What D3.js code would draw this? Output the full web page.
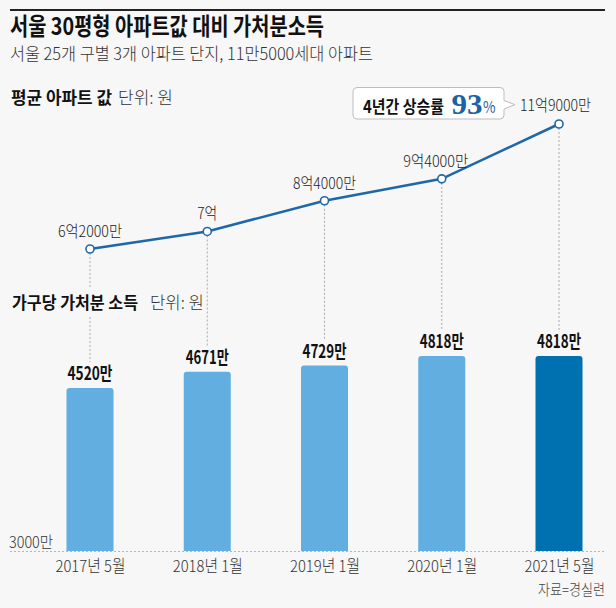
<!DOCTYPE html>
<html><head><meta charset="utf-8">
<script src="https://cdn.jsdelivr.net/npm/d3@7"></script>
<style>
html,body{margin:0;padding:0;background:#f7f7f7;}
svg{display:block;}
text{font-family:"Noto Sans CJK KR","Noto Sans",sans-serif;}
</style></head>
<body>
<svg id="chart" width="616" height="608"></svg>
<script>
// ---- data ----
const categories = ["2017년 5월","2018년 1월","2019년 1월","2020년 1월","2021년 5월"];
const aptPrice = [62000, 70000, 84000, 94000, 119000];          // 만원
const aptLabels = ["6억2000만","7억","8억4000만","9억4000만","11억9000만"];
const income = [4520, 4671, 4729, 4818, 4818];                   // 만원
const incomeLabels = ["4520만","4671만","4729만","4818만","4818만"];
const incomeBase = 3000;
const baseLabel = "3000만";
const riseRate = "93";

const W = 616, H = 608;
const bg = "#f7f7f7";
const svg = d3.select("#chart");
svg.append("rect").attr("width",W).attr("height",H).attr("fill",bg);

function fit(sel, w){ return sel.attr("textLength", w).attr("lengthAdjust","spacingAndGlyphs"); }

// scales
const x = d3.scalePoint().domain(categories).range([90, 559]);
const yLine = d3.scaleLinear().domain([0, 119000]).range([385, 124]);
const yBar = d3.scaleLinear().domain([incomeBase, 5000]).range([551, 336.5]);
const barW = 47, r = 3;

// top rule
svg.append("line").attr("x1",10).attr("x2",605).attr("y1",10).attr("y2",10)
  .attr("stroke","#222").attr("stroke-width",2);

// titles
fit(svg.append("text").attr("x",10).attr("y",35).attr("font-size",24).attr("font-weight",700)
  .attr("fill","#111").text("서울 30평형 아파트값 대비 가처분소득"), 314);
fit(svg.append("text").attr("x",10).attr("y",60).attr("font-size",17).attr("font-weight",300)
  .attr("fill","#333").text("서울 25개 구별 3개 아파트 단지, 11만5000세대 아파트"), 363);

// section label 1
fit(svg.append("text").attr("x",11).attr("y",104).attr("font-size",17).attr("font-weight",700)
  .attr("fill","#111").text("평균 아파트 값"), 101);
fit(svg.append("text").attr("x",118).attr("y",104).attr("font-size",17).attr("font-weight",300)
  .attr("fill","#333").text("단위: 원"), 55);

// dashed verticals from points down to bar labels
svg.append("g").selectAll("line").data(categories).join("line")
  .attr("x1",d=>x(d)).attr("x2",d=>x(d))
  .attr("y1",(d,i)=>yLine(aptPrice[i])+4)
  .attr("y2",(d,i)=>yBar(income[i])-26)
  .attr("stroke","#aaa").attr("stroke-width",1).attr("stroke-dasharray","2,2");

// section label 2 with background
svg.append("rect").attr("x",8).attr("y",287).attr("width",198).attr("height",30).attr("fill",bg);
fit(svg.append("text").attr("x",12).attr("y",309).attr("font-size",17).attr("font-weight",700)
  .attr("fill","#111").text("가구당 가처분 소득"), 126);
fit(svg.append("text").attr("x",150).attr("y",309).attr("font-size",17).attr("font-weight",300)
  .attr("fill","#333").text("단위: 원"), 54);

// line
const lineGen = d3.line().x((d,i)=>x(categories[i])).y(d=>yLine(d));
svg.append("path").datum(aptPrice).attr("d",lineGen).attr("fill","none")
  .attr("stroke","#1f68a8").attr("stroke-width",2.6);
svg.append("g").selectAll("circle").data(aptPrice).join("circle")
  .attr("cx",(d,i)=>x(categories[i])).attr("cy",d=>yLine(d)).attr("r",4)
  .attr("fill","#fff").attr("stroke","#1f68a8").attr("stroke-width",1.6);

// point labels
const ptW = [64, 20, 63, 65, 71];
aptLabels.forEach((lab,i)=>{
  const last = i === aptLabels.length-1;
  const t = svg.append("text").attr("font-size",16).attr("font-weight",300).attr("fill","#222").text(lab);
  if(last){
    t.attr("x", x(categories[i]) - 39).attr("y", yLine(aptPrice[i]) - 13).attr("text-anchor","start");
  } else {
    t.attr("x", x(categories[i]) - (i===3?6:0)).attr("y", yLine(aptPrice[i]) - 12).attr("text-anchor","middle");
  }
  fit(t, ptW[i]);
});

// callout
const cg = svg.append("g");
cg.append("path")
  .attr("d","M357,87.5 H500 Q504,87.5 504,91.5 V100.5 L515,104.7 L504,109 V115 Q504,119 500,119 H357 Q353,119 353,115 V91.5 Q353,87.5 357,87.5 Z")
  .attr("fill","#fff").attr("stroke","#bdbdbd").attr("stroke-width",1);
fit(cg.append("text").attr("x",363).attr("y",112.5).attr("font-size",17).attr("font-weight",700)
  .attr("fill","#111").text("4년간 상승률"), 81);
fit(cg.append("text").attr("x",451.5).attr("y",113.5).attr("font-size",29).attr("font-weight",700)
  .attr("fill","#1a64a4").style("font-family","'Liberation Serif','DejaVu Serif',serif").text(riseRate), 31);
fit(cg.append("text").attr("x",483).attr("y",113).attr("font-size",16)
  .attr("fill","#1a64a4").text("%"), 12.5);

// bars (rounded top)
function barPath(cx, top, bottom){
  const l = cx - barW/2, rr = cx + barW/2;
  return `M${l},${bottom} V${top+r} Q${l},${top} ${l+r},${top} H${rr-r} Q${rr},${top} ${rr},${top+r} V${bottom} Z`;
}
svg.append("g").selectAll("path").data(income).join("path")
  .attr("d",(d,i)=>barPath(x(categories[i]), yBar(d), yBar(incomeBase)))
  .attr("fill",(d,i)=> i===income.length-1 ? "#0071b0" : "#62aee0");

// bar labels
const blW = [45, 43, 44, 44, 44];
svg.append("g").selectAll("text").data(incomeLabels).join("text")
  .attr("x",(d,i)=>x(categories[i])).attr("y",(d,i)=>yBar(income[i])-8)
  .attr("text-anchor","middle").attr("font-size",18.5).attr("font-weight",700)
  .attr("fill","#111").text(d=>d)
  .attr("textLength",(d,i)=>blW[i]).attr("lengthAdjust","spacingAndGlyphs");

// baseline
svg.append("line").attr("x1",10).attr("x2",605).attr("y1",yBar(incomeBase)+0.5).attr("y2",yBar(incomeBase)+0.5)
  .attr("stroke","#b5b5b5").attr("stroke-width",1).attr("stroke-dasharray","2,2");
fit(svg.append("text").attr("x",9).attr("y",547.5).attr("font-size",15.5).attr("font-weight",300).attr("fill","#333").text(baseLabel), 44);

// x axis labels
const xAxis = d3.axisBottom(x).tickSize(0).tickPadding(0);
const ax = svg.append("g").attr("transform",`translate(0,${572-12})`).call(xAxis);
ax.select(".domain").remove();
ax.selectAll("text").attr("font-size",16.5).attr("fill","#333").attr("font-weight",300)
  .style("font-family","'Noto Sans CJK KR',sans-serif")
  .attr("dy",0).attr("y",12)
  .attr("textLength",70).attr("lengthAdjust","spacingAndGlyphs");

// source
fit(svg.append("text").attr("x",538).attr("y",595).attr("font-size",14.5).attr("font-weight",300)
  .attr("fill","#444").text("자료=경실련"), 67);
</script>
</body></html>
